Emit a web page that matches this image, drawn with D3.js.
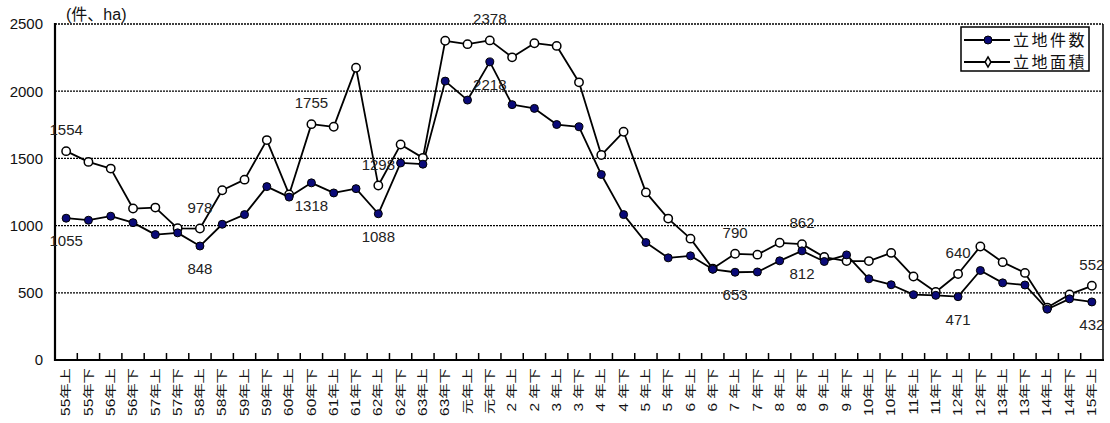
<!DOCTYPE html>
<html>
<head>
<meta charset="utf-8">
<script src="https://cdn.jsdelivr.net/npm/d3@7/dist/d3.min.js"></script>
<style>
  html, body { margin: 0; padding: 0; background: #fff; }
  svg { display: block; font-family: "Liberation Sans", Arial, "Noto Sans CJK JP", sans-serif; }
</style>
</head>
<body>
<svg id="chart" width="1110" height="423"></svg>
<script>
// Half-year periods (上 = first half, 下 = second half)
const periods = [
  "55年上","55年下","56年上","56年下","57年上","57年下","58年上","58年下",
  "59年上","59年下","60年上","60年下","61年上","61年下","62年上","62年下",
  "63年上","63年下","元年上","元年下","2 年上","2 年下","3 年上","3 年下",
  "4 年上","4 年下","5 年上","5 年下","6 年上","6 年下","7 年上","7 年下",
  "8 年上","8 年下","9 年上","9 年下","10年上","10年下","11年上","11年下",
  "12年上","12年下","13年上","13年下","14年上","14年下","15年上"
];

// 立地件数 (number of sites)
const siteCount = [
  1055, 1040, 1070, 1022, 933, 946, 848, 1010,
  1082, 1290, 1212, 1318, 1243, 1275, 1088, 1466,
  1457, 2075, 1934, 2218, 1900, 1872, 1752, 1735,
  1380, 1082, 874, 760, 775, 675, 653, 655,
  738, 812, 733, 782, 604, 560, 486, 481,
  471, 666, 574, 558, 378, 455, 432
];

// 立地面積 (site area, ha)
const siteArea = [
  1554, 1474, 1424, 1127, 1134, 980, 978, 1263,
  1342, 1636, 1232, 1755, 1735, 2175, 1298, 1603,
  1504, 2375, 2350, 2378, 2252, 2357, 2337, 2066,
  1525, 1698, 1247, 1052, 903, 680, 790, 784,
  872, 862, 766, 736, 736, 797, 621, 506,
  640, 845, 728, 648, 390, 488, 552
];

// Periods whose values are printed next to the markers
const labelledPeriods = [0, 6, 11, 14, 19, 30, 33, 40, 46];

const yTicks = [0, 500, 1000, 1500, 2000, 2500];
const seriesNames = ["立地件数", "立地面積"];
const unitLabel = "(件、ha)";

const svg = d3.select("#chart");
const plot = { left: 55, right: 1103, top: 24, bottom: 360 };

const x = d3.scaleBand().domain(periods).range([plot.left, plot.right]).padding(0);
const y = d3.scaleLinear().domain([0, 2500]).range([plot.bottom, plot.top]);
const cx = p => x(p) + x.bandwidth() / 2;

// Horizontal dashed gridlines
svg.append("g")
  .selectAll("line")
  .data(yTicks.filter(v => v > 0))
  .join("line")
  .attr("x1", plot.left).attr("x2", plot.right)
  .attr("y1", d => y(d)).attr("y2", d => y(d))
  .attr("stroke", "#000").attr("stroke-width", 1.3)
  .attr("stroke-dasharray", "2,1");

// Right border of the plot area
svg.append("line")
  .attr("x1", plot.right).attr("x2", plot.right)
  .attr("y1", plot.top).attr("y2", plot.bottom)
  .attr("stroke", "#000").attr("stroke-width", 1.5);

// Y axis labels
const yAxis = d3.axisLeft(y).tickValues(yTicks).tickFormat(d3.format("d"))
  .tickSize(0).tickPadding(12);
const gy = svg.append("g").attr("transform", `translate(${plot.left},0)`).call(yAxis);
gy.select(".domain").remove();
gy.selectAll("text")
  .attr("font-size", 15).attr("fill", "#111")
  .attr("font-family", "Liberation Sans, Arial, sans-serif");

// X axis labels, rotated to read bottom-to-top
const xAxis = d3.axisBottom(x).tickSize(0).tickPadding(0);
const gx = svg.append("g").attr("transform", `translate(0,${plot.bottom})`).call(xAxis);
gx.select(".domain").remove();
gx.selectAll("text")
  .attr("font-size", 14).attr("fill", "#111")
  .attr("font-family", "Liberation Sans, Arial, 'Noto Sans CJK JP', sans-serif")
  .attr("text-anchor", "end")
  .attr("transform", "translate(0,8) rotate(-90) scale(1.1,0.85)")
  .attr("dx", 0).attr("dy", "0.35em").attr("x", 0).attr("y", 0)
  .style("white-space", "pre");

// Inner tick marks at category boundaries
svg.append("g")
  .selectAll("line")
  .data(periods.slice(1))
  .join("line")
  .attr("x1", d => x(d)).attr("x2", d => x(d))
  .attr("y1", plot.bottom).attr("y2", plot.bottom - 7)
  .attr("stroke", "#000").attr("stroke-width", 1.5);

// Axis lines
svg.append("line")
  .attr("x1", plot.left).attr("x2", plot.left)
  .attr("y1", plot.top - 1).attr("y2", plot.bottom + 1)
  .attr("stroke", "#000").attr("stroke-width", 2.2);
svg.append("line")
  .attr("x1", plot.left - 1).attr("x2", plot.right + 1)
  .attr("y1", plot.bottom).attr("y2", plot.bottom)
  .attr("stroke", "#000").attr("stroke-width", 2.2);

// Unit label
svg.append("text")
  .attr("x", 66).attr("y", 20)
  .attr("font-size", 16).attr("fill", "#111")
  .attr("font-family", "Liberation Sans, Arial, 'Noto Sans CJK JP', sans-serif")
  .text(unitLabel);

const line = d3.line().x((d, i) => cx(periods[i])).y(d => y(d));

// Series lines
svg.append("path").datum(siteArea)
  .attr("d", line).attr("fill", "none")
  .attr("stroke", "#000").attr("stroke-width", 1.8).attr("stroke-linejoin", "round");
svg.append("path").datum(siteCount)
  .attr("d", line).attr("fill", "none")
  .attr("stroke", "#000").attr("stroke-width", 1.8).attr("stroke-linejoin", "round");

// Markers: area = white, count = navy
svg.append("g").selectAll("circle")
  .data(siteArea).join("circle")
  .attr("cx", (d, i) => cx(periods[i])).attr("cy", d => y(d))
  .attr("r", 4.2).attr("fill", "#fff")
  .attr("stroke", "#000").attr("stroke-width", 1.5);
svg.append("g").selectAll("circle")
  .data(siteCount).join("circle")
  .attr("cx", (d, i) => cx(periods[i])).attr("cy", d => y(d))
  .attr("r", 4).attr("fill", "#0a0a78")
  .attr("stroke", "#000").attr("stroke-width", 1);

// Value labels: area above its marker, count below
const labelFont = "Liberation Sans, Arial, sans-serif";
svg.append("g").selectAll("text")
  .data(labelledPeriods).join("text")
  .attr("x", i => cx(periods[i])).attr("y", i => y(siteArea[i]) - 16)
  .attr("text-anchor", "middle").attr("font-size", 15).attr("fill", "#222")
  .attr("font-family", labelFont)
  .text(i => siteArea[i]);
svg.append("g").selectAll("text")
  .data(labelledPeriods).join("text")
  .attr("x", i => cx(periods[i])).attr("y", i => y(siteCount[i]) + 28)
  .attr("text-anchor", "middle").attr("font-size", 15).attr("fill", "#222")
  .attr("font-family", labelFont)
  .text(i => siteCount[i]);

// Legend
const legend = svg.append("g");
legend.append("rect")
  .attr("x", 961).attr("y", 27).attr("width", 128).attr("height", 44)
  .attr("fill", "#fff").attr("stroke", "#000").attr("stroke-width", 1.5);
const rows = [
  { name: seriesNames[0], yy: 40, kind: "count" },
  { name: seriesNames[1], yy: 62, kind: "area" }
];
rows.forEach(r => {
  legend.append("line")
    .attr("x1", 964).attr("x2", 1010).attr("y1", r.yy).attr("y2", r.yy)
    .attr("stroke", "#000").attr("stroke-width", 1.8);
  if (r.kind === "count") {
    legend.append("circle").attr("cx", 988).attr("cy", r.yy).attr("r", 4)
      .attr("fill", "#0a0a78").attr("stroke", "#000").attr("stroke-width", 1);
  } else {
    legend.append("path")
      .attr("d", d3.symbol(d3.symbolDiamond, 30)())
      .attr("transform", `translate(988,${r.yy})`)
      .attr("fill", "#fff").attr("stroke", "#000").attr("stroke-width", 1.5);
  }
  legend.append("text")
    .attr("x", 1013).attr("y", r.yy).attr("dy", "0.36em")
    .attr("font-size", 16).attr("letter-spacing", 2.5).attr("fill", "#111")
    .attr("font-family", "'Noto Sans CJK JP', sans-serif")
    .text(r.name);
});
</script>
</body>
</html>
